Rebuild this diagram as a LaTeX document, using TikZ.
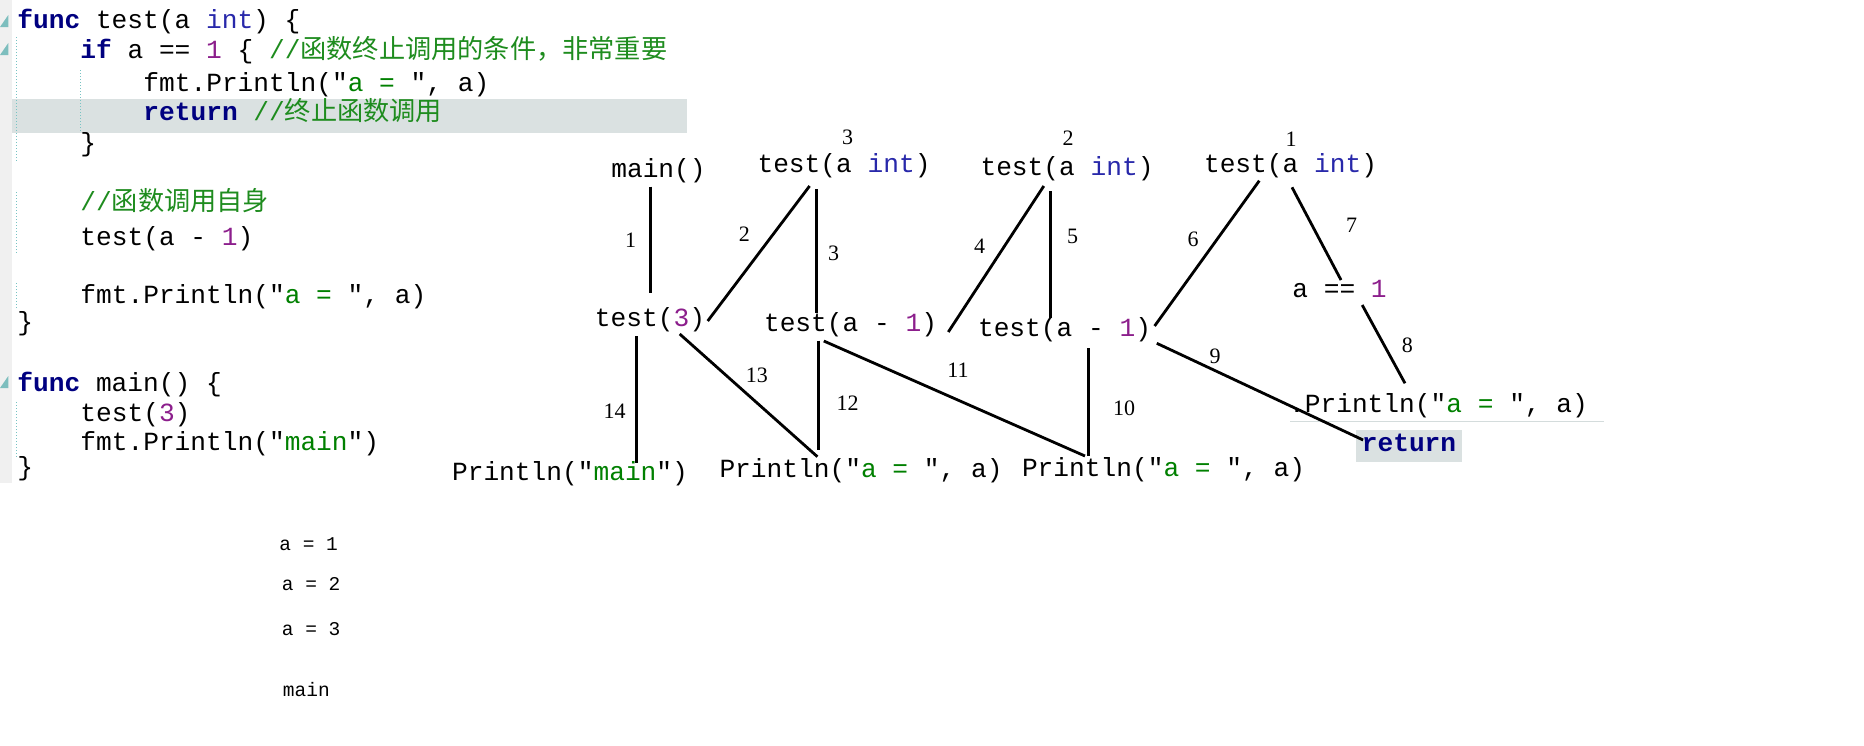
\documentclass[tikz,border=0pt]{standalone}
\usepackage{fontspec}
\newfontfamily\codefont{Liberation Mono}
\newfontfamily\cjk{Noto Sans CJK SC}
\newfontfamily\numfont{Liberation Serif}
\definecolor{kw}{RGB}{0,0,128}
\definecolor{ty}{RGB}{40,40,170}
\definecolor{num}{RGB}{140,30,140}
\definecolor{str}{RGB}{0,128,0}
\definecolor{cm}{RGB}{30,140,30}
\definecolor{hl}{RGB}{218,225,225}
\definecolor{gut}{RGB}{240,240,240}
\definecolor{fold}{RGB}{125,190,190}
\definecolor{guide}{RGB}{120,195,195}
\definecolor{uline}{RGB}{212,220,220}
\newcommand\kwd[1]{\textcolor{kw}{\bfseries #1}}
\frenchspacing
\begin{document}
\begin{tikzpicture}[x=0.5pt,y=-0.5pt,
  code/.style={anchor=base west,inner sep=0pt,font=\codefont\frenchspacing\fontsize{13.1}{15}\selectfont},
  dg/.style={anchor=base,inner sep=0pt,font=\codefont\frenchspacing\fontsize{13.1}{15}\selectfont},
  lbl/.style={inner sep=0pt,font=\numfont\fontsize{11}{13}\selectfont},
  outp/.style={anchor=base west,inner sep=0pt,font=\codefont\frenchspacing\fontsize{9.75}{12}\selectfont},
  edge/.style={line width=1.4pt,black},
  guideline/.style={guide,line width=0.5pt,dash pattern=on 0.5pt off 1pt},
  foldmark/.style={fill=fold}]
\useasboundingbox (0,0) rectangle (1864,745);
\fill[white] (0,0) rectangle (1864,745);
% editor gutter and current-line band
\fill[gut] (0,0) rectangle (12,483);
\fill[hl] (12,99) rectangle (687,133);
\fill[foldmark] (0,27) -- (8.3,27) -- (8.3,15) -- cycle;
\fill[foldmark] (0,55) -- (8.3,55) -- (8.3,43) -- cycle;
\fill[foldmark] (0,388) -- (8.3,388) -- (8.3,376) -- cycle;
\draw[guideline] (16.7,37) -- (16.7,162);
\draw[guideline] (16.7,192) -- (16.7,253);
\draw[guideline] (16.7,283) -- (16.7,310);
\draw[guideline] (16.7,402) -- (16.7,457);
\draw[guideline] (80.7,70) -- (80.7,132);
% code
\node[code] (L1) at (17,28.3) {\kwd{func} test(a \textcolor{ty}{int}) \{};
\node[code] (L2) at (80,58.3) {\kwd{if} a == \textcolor{num}{1} \{ \textcolor{cm}{//{\cjk 函数终止调用的条件，非常重要}}};
\node[code] (L3) at (143,91.5) {fmt.Println("\textcolor{str}{a = }", a)};
\node[code] (L4) at (143,120.5) {\kwd{return} \textcolor{cm}{//{\cjk 终止函数调用}}};
\node[code] (L5) at (80,151.5) {\}};
\node[code] (L7) at (80,210) {\textcolor{cm}{//{\cjk 函数调用自身}}};
\node[code] (L8) at (80,245) {test(a - \textcolor{num}{1})};
\node[code] (L10) at (80,303.5) {fmt.Println("\textcolor{str}{a = }", a)};
\node[code] (L11) at (17,330) {\}};
\node[code] (L13) at (17,391.5) {\kwd{func} main() \{};
\node[code] (L14) at (80,421.5) {test(\textcolor{num}{3})};
\node[code] (L15) at (80,450.7) {fmt.Println("\textcolor{str}{main}")};
\node[code] (L16) at (17,475) {\}};
% output
\node[outp] (o1) at (279,550) {a = 1};
\node[outp] (o2) at (281.5,590) {a = 2};
\node[outp] (o3) at (281.5,635) {a = 3};
\node[outp] (o4) at (282.5,696.5) {main};
% diagram nodes
\node[dg] (main) at (658.5,177) {main()};
\node[dg] (tA) at (844,172.7) {test(a \textcolor{ty}{int})};
\node[dg] (tB) at (1067,175) {test(a \textcolor{ty}{int})};
\node[dg] (tC) at (1290.5,172) {test(a \textcolor{ty}{int})};
\node[dg] (t3) at (650,326) {test(\textcolor{num}{3})};
\node[dg] (tm1) at (850.5,331) {test(a - \textcolor{num}{1})};
\node[dg] (tm2) at (1064.5,336.7) {test(a - \textcolor{num}{1})};
\node[dg] (eq) at (1339.5,297.7) {a == \textcolor{num}{1}};
\node[dg] (pm) at (570,480) {Println("\textcolor{str}{main}")};
\node[dg] (p1) at (861,477.7) {Println("\textcolor{str}{a = }", a)};
\node[dg] (p2) at (1163.5,476) {Println("\textcolor{str}{a = }", a)};
\node[dg] (p3) at (1438.5,412) {.Println("\textcolor{str}{a = }", a)};
\draw[uline,line width=0.8pt] (1290,421.5) -- (1604,421.5);
\node[dg,fill=hl,inner xsep=2.9pt,text height=10.85pt,text depth=5.15pt] (ret) at (1409,451.7) {\kwd{return}};
% depth numbers
\node[lbl,anchor=base] (d3) at (847.7,144) {3};
\node[lbl,anchor=base] (d2) at (1068,145.5) {2};
\node[lbl,anchor=base] (d1) at (1291,146.5) {1};
% connector end points
\coordinate (a1) at (650.7,186.7);  \coordinate (b1) at (650.7,292.7);
\coordinate (a2) at (707.7,321);    \coordinate (b2) at (809.6,186);
\coordinate (a3) at (816.5,189);    \coordinate (b3) at (816.5,312.7);
\coordinate (a4) at (948.3,332);    \coordinate (b4) at (1043.8,186);
\coordinate (a5) at (1050.6,191);   \coordinate (b5) at (1050.6,317.7);
\coordinate (a6) at (1259.3,180.7); \coordinate (b6) at (1154.6,326);
\coordinate (a7) at (1292,187.3);   \coordinate (b7) at (1341,280);
\coordinate (a8) at (1362.2,305);   \coordinate (b8) at (1405,383.3);
\coordinate (a9) at (1156.8,343.3); \coordinate (b9) at (1363.1,440);
\coordinate (a10) at (1088.3,348);  \coordinate (b10) at (1088.3,456);
\coordinate (a11) at (823.8,341);   \coordinate (b11) at (1085,456);
\coordinate (a12) at (818.8,340.7); \coordinate (b12) at (818.8,450);
\coordinate (a13) at (679.7,334);   \coordinate (b13) at (817.4,456.7);
\coordinate (a14) at (636.5,336);   \coordinate (b14) at (636.5,462.7);
\foreach \i in {1,...,14} {\draw[edge] (a\i) -- (b\i);}
% step labels
\node[lbl] (n1) at (630.5,240) {1};
\node[lbl] (n2) at (744.4,234) {2};
\node[lbl] (n3) at (833.5,253) {3};
\node[lbl] (n4) at (979.5,246) {4};
\node[lbl] (n5) at (1072.7,236.7) {5};
\node[lbl] (n6) at (1193,239) {6};
\node[lbl] (n7) at (1351.7,225) {7};
\node[lbl] (n8) at (1407.3,345) {8};
\node[lbl] (n9) at (1215,356) {9};
\node[lbl] (n10) at (1124,408) {10};
\node[lbl] (n11) at (958,370) {11};
\node[lbl] (n12) at (847.7,403) {12};
\node[lbl] (n13) at (756.8,375) {13};
\node[lbl] (n14) at (614.5,411) {14};
\end{tikzpicture}
\end{document}
